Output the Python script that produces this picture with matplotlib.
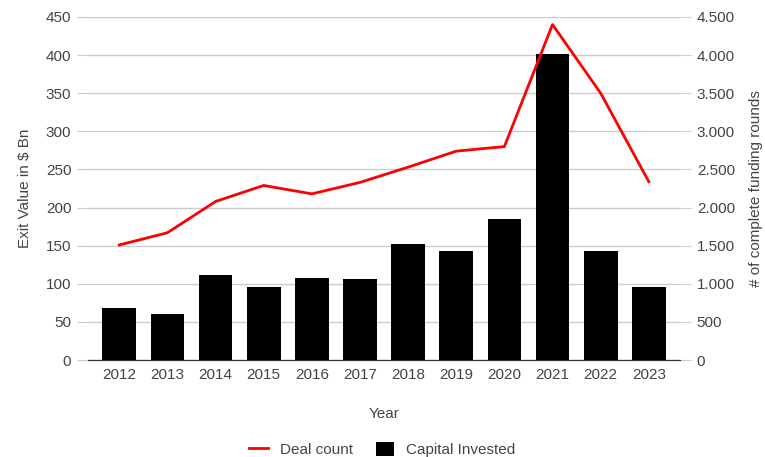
import matplotlib
matplotlib.use("Agg")
import matplotlib.pyplot as plt
from matplotlib.ticker import FuncFormatter

plt.rcParams["font.family"] = ["Liberation Sans", "DejaVu Sans"]

# données
years = [2012, 2013, 2014, 2015, 2016, 2017, 2018, 2019, 2020, 2021, 2022, 2023]
capital = [68, 61, 112, 96, 108, 107, 152, 143, 185, 402, 143, 96]
deals = [1510, 1670, 2080, 2290, 2180, 2330, 2530, 2740, 2800, 4400, 3500, 2340]

TXT = "#444444"
GRID = "#cccccc"
FS = 11

fig = plt.figure(figsize=(7.65, 4.57), dpi=100)
ax = fig.add_axes([0.115, 0.212, 0.774, 0.751])
ax2 = ax.twinx()

x = list(range(len(years)))
bars = ax.bar(x, capital, width=0.7, color="black", zorder=3, label="Capital Invested")
line, = ax2.plot(x, deals, color="#ff0000", linewidth=2, zorder=4, label="Deal count")

ax.set_ylim(0, 450)
ax.set_yticks(range(0, 451, 50))
ax2.set_ylim(0, 4500)
ax2.set_yticks(range(0, 4501, 500))
ax2.yaxis.set_major_formatter(FuncFormatter(lambda v, p: f"{int(v):,}".replace(",", ".")))
ax.set_xlim(-0.65, len(years) - 0.35)
ax.set_xticks(x)
ax.set_xticklabels([str(y) for y in years])

ax.grid(axis="y", color=GRID, linewidth=1, zorder=0)
ax.set_axisbelow(True)
ax2.set_zorder(ax.get_zorder() + 1)
ax2.patch.set_visible(False)

for a in (ax, ax2):
    for s in ("top", "left", "right"):
        a.spines[s].set_visible(False)
    a.spines["bottom"].set_color("#333333")
    a.tick_params(colors=TXT, labelsize=FS)
ax.tick_params(axis="y", length=8, color=GRID, pad=4)
ax2.tick_params(axis="y", length=8, color=GRID, pad=4)
ax.tick_params(axis="x", length=0, pad=6)

ax.set_ylabel("Exit Value in $ Bn", color=TXT, fontsize=FS, labelpad=10)
ax2.set_ylabel("# of complete funding rounds", color=TXT, fontsize=FS, labelpad=10)
ax.set_xlabel("Year", color=TXT, fontsize=FS, labelpad=18)

fig.legend([line, bars], ["Deal count", "Capital Invested"], loc="lower center",
           bbox_to_anchor=(0.5, -0.03), ncol=2, frameon=False, fontsize=FS,
           labelcolor=TXT, handlelength=1.2, handleheight=1.0, columnspacing=1.5)

fig.savefig("out.png", dpi=100)
